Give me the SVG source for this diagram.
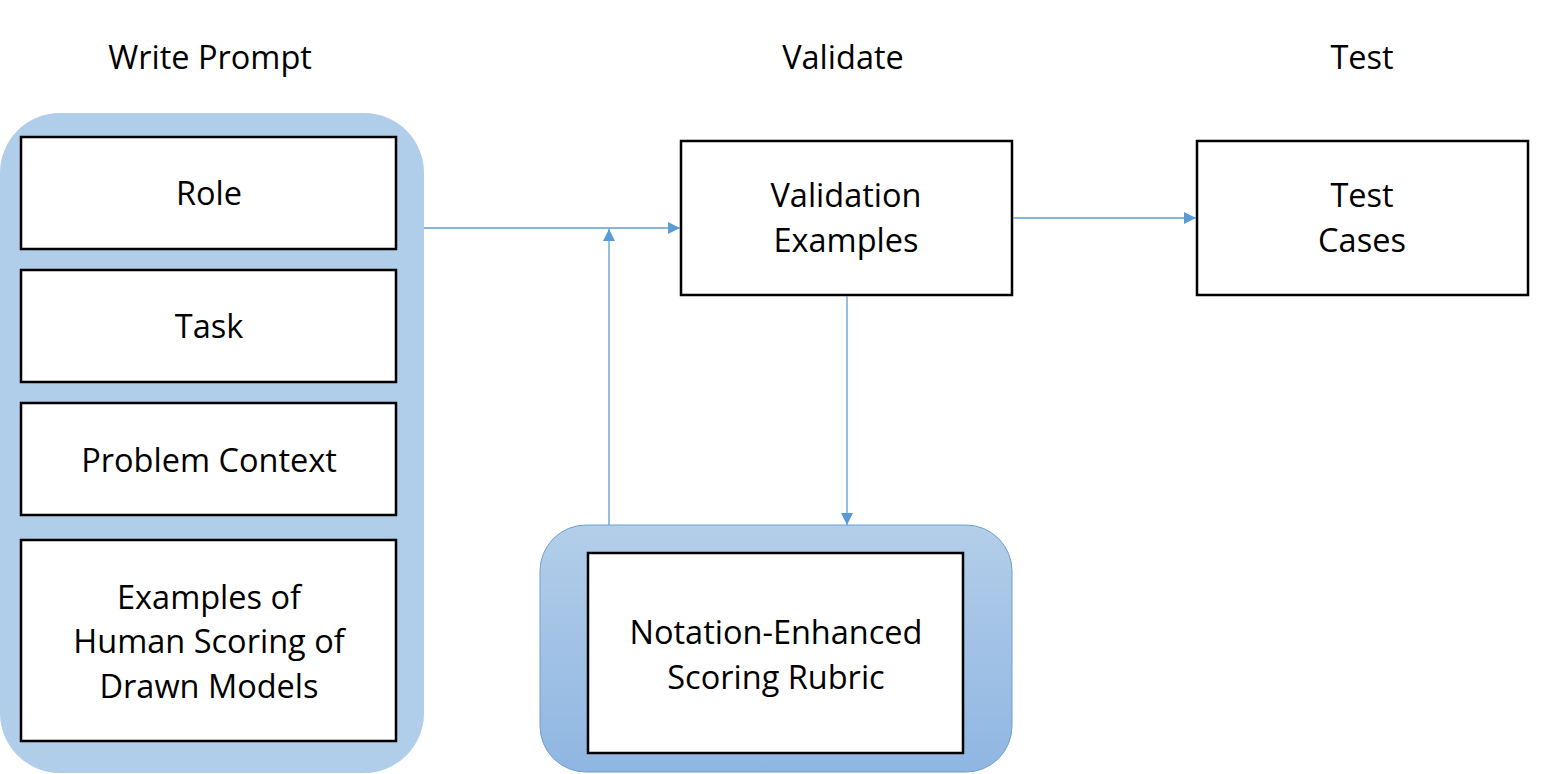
<svg xmlns="http://www.w3.org/2000/svg" width="1550" height="774" viewBox="0 0 1550 774">
<style>
text{font-family:"Open Sans","Liberation Sans",sans-serif;font-size:32.5px;fill:#000;text-anchor:middle}
.box{fill:#fff;stroke:#000;stroke-width:2.5}
.cont{fill:#b0cde9}
.conn{stroke:#5b9bd5;stroke-width:1.3;fill:none}
</style>
<defs>
<linearGradient id="g" x1="0" y1="0" x2="0" y2="1">
<stop offset="0" stop-color="#b3cee9"/>
<stop offset="1" stop-color="#8fb6e2"/>
</linearGradient>
<marker id="arr" viewBox="0 0 10 10" refX="10" refY="5" markerWidth="13" markerHeight="12" markerUnits="userSpaceOnUse" orient="auto">
<path d="M0,0 L10,5 L0,10 z" fill="#5b9bd5"/>
</marker>
</defs>
<text x="210" y="69">Write Prompt</text>
<text x="843" y="69">Validate</text>
<text x="1362" y="69">Test</text>
<g id="write-prompt">
<rect class="cont" x="0" y="113" width="424" height="660" rx="60"/>
</g>
<g id="role"><rect class="box" x="21" y="137" width="375" height="112"/><text x="209" y="205">Role</text></g>
<g id="task"><rect class="box" x="21" y="270" width="375" height="112"/><text x="209" y="338">Task</text></g>
<g id="context"><rect class="box" x="21" y="403" width="375" height="112"/><text x="209" y="472">Problem Context</text></g>
<g id="examples"><rect class="box" x="21" y="540" width="375" height="201"/><text x="209" y="609">Examples of</text><text x="209" y="653">Human Scoring of</text><text x="209" y="698">Drawn Models</text></g>
<g id="validation"><rect class="box" x="681" y="141" width="331" height="154"/><text x="846" y="207">Validation</text><text x="846" y="252">Examples</text></g>
<g id="test"><rect class="box" x="1197" y="141" width="331" height="154"/><text x="1362" y="207">Test</text><text x="1362" y="252">Cases</text></g>
<g id="rubric-container"><rect x="540" y="525" width="472" height="247" rx="46" fill="url(#g)" stroke="#6f9fd3" stroke-width="1"/></g>
<g id="rubric"><rect class="box" x="588" y="553" width="375" height="200"/><text x="776" y="644">Notation-Enhanced</text><text x="776" y="689">Scoring Rubric</text></g>
<g id="connectors">
<line class="conn" x1="424" y1="228" x2="680" y2="228" marker-end="url(#arr)"/>
<line class="conn" x1="609" y1="525" x2="609" y2="229" marker-end="url(#arr)"/>
<line class="conn" x1="847" y1="296" x2="847" y2="525" marker-end="url(#arr)"/>
<line class="conn" x1="1013" y1="218" x2="1196" y2="218" marker-end="url(#arr)"/>
</g>
</svg>
